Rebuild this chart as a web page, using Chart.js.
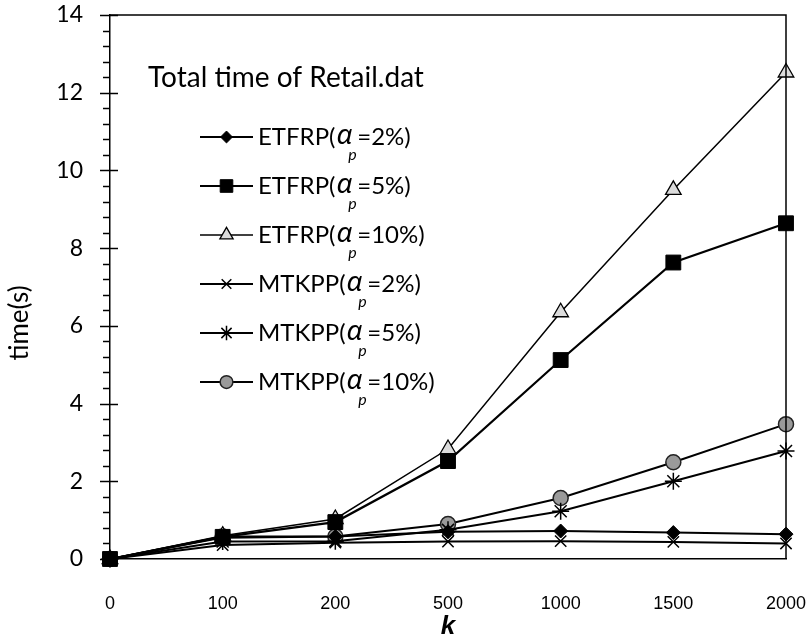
<!DOCTYPE html>
<html><head><meta charset="utf-8">
<script src="https://cdn.jsdelivr.net/npm/chart.js@4"></script>
<style>html,body{margin:0;padding:0;background:#fff}</style>
</head><body>
<canvas id="c" width="810" height="642" style="width:810px;height:642px;display:block"></canvas>
<script>
const categories = ['0','100','200','500','1000','1500','2000'];
const etfrp2  = [0, 0.55, 0.58, 0.70, 0.72, 0.68, 0.64];
const etfrp5  = [0, 0.57, 0.95, 2.52, 5.12, 7.63, 8.64];
const etfrp10 = [0, 0.60, 1.03, 2.83, 6.35, 9.50, 12.52];
const mtkpp2  = [0, 0.36, 0.42, 0.45, 0.46, 0.44, 0.40];
const mtkpp5  = [0, 0.45, 0.46, 0.75, 1.23, 2.00, 2.78];
const mtkpp10 = [0, 0.58, 0.58, 0.90, 1.57, 2.49, 3.47];
const seriesMethod = ['ETFRP','ETFRP','ETFRP','MTKPP','MTKPP','MTKPP'];
const seriesAlpha  = ['2%','5%','10%','2%','5%','10%'];
const legendTitle = 'Total time of Retail.dat';
const yTitle = 'time(s)';
const xTitle = 'k';

const styles = [
  {pointStyle:'rectRot', pointRadius:7, backgroundColor:'#000', borderColor:'#000', pointBorderWidth:1, borderWidth:2},
  {pointStyle:'rect', pointRadius:10.5, backgroundColor:'#000', borderColor:'#000', pointBorderWidth:1, borderWidth:2.2},
  {pointStyle:'triangle', pointRadius:9, backgroundColor:'#dcdcdc', borderColor:'#000', pointBorderWidth:1.3, borderWidth:1.5},
  {pointStyle:'crossRot', pointRadius:8, backgroundColor:'#000', borderColor:'#000', pointBorderWidth:1.5, borderWidth:2},
  {pointStyle:'star', pointRadius:8.5, backgroundColor:'#000', borderColor:'#000', pointBorderWidth:1.5, borderWidth:2},
  {pointStyle:'circle', pointRadius:7.5, backgroundColor:'#9a9a9a', borderColor:'#222', pointBorderWidth:1.5, borderWidth:2}
];
const allData = [etfrp2, etfrp5, etfrp10, mtkpp2, mtkpp5, mtkpp10];
const datasets = allData.map((d,i)=>({
  label: seriesMethod[i]+'(αp='+seriesAlpha[i]+')',
  data: d,
  borderColor: '#000',
  backgroundColor: styles[i].backgroundColor,
  borderWidth: styles[i].borderWidth,
  pointStyle: styles[i].pointStyle,
  pointRadius: styles[i].pointRadius,
  pointHoverRadius: styles[i].pointRadius,
  pointBackgroundColor: styles[i].backgroundColor,
  pointBorderColor: styles[i].borderColor,
  pointBorderWidth: styles[i].pointBorderWidth,
  tension: 0,
  clip: false
}));

const framePlugin = {
  id:'frame',
  afterDraw(chart){
    const ctx = chart.ctx, a = chart.chartArea, ys = chart.scales.y;
    ctx.save();
    ctx.strokeStyle = '#000';
    ctx.lineWidth = 1.5;
    ctx.beginPath();
    ctx.moveTo(a.left, a.top); ctx.lineTo(a.right, a.top); ctx.lineTo(a.right, a.bottom);
    ctx.stroke();
    for (let k = 0; k <= 35; k++) {
      const v = k*0.4;
      const py = Math.round(ys.getPixelForValue(v)) + 0.5;
      ctx.beginPath();
      if (k % 5 === 0) { ctx.moveTo(a.left-10, py); ctx.lineTo(a.left+8, py); }
      else { ctx.moveTo(a.left-7, py); ctx.lineTo(a.left, py); }
      ctx.stroke();
    }
    // y axis title
    ctx.fillStyle = '#000';
    ctx.font = '26px Lato';
    ctx.textAlign = 'center';
    ctx.textBaseline = 'middle';
    ctx.translate(20, 323);
    ctx.rotate(-Math.PI/2);
    ctx.fillText(yTitle, 0, 0);
    ctx.restore();
  }
};

const legendPlugin = {
  id:'customLegend',
  afterDraw(chart){
    const ctx = chart.ctx, a = chart.chartArea;
    ctx.save();
    ctx.fillStyle = '#000';
    ctx.textBaseline = 'middle';
    ctx.textAlign = 'left';
    ctx.font = '28px Lato';
    ctx.fillText(legendTitle, a.left + 38, 78);
    chart.data.datasets.forEach((ds, i) => {
      const y = 137 + 49*i;
      const x0 = a.left + 90, x1 = a.left + 143;
      ctx.strokeStyle = '#000';
      ctx.lineWidth = ds.borderWidth;
      ctx.beginPath(); ctx.moveTo(x0, y); ctx.lineTo(x1, y); ctx.stroke();
      ctx.fillStyle = ds.pointBackgroundColor;
      ctx.strokeStyle = ds.pointBorderColor;
      ctx.lineWidth = ds.pointBorderWidth;
      Chart.helpers.drawPoint(ctx, {pointStyle: ds.pointStyle, radius: ds.pointRadius*0.85, rotation:0, borderWidth: ds.pointBorderWidth}, (x0+x1)/2, y);
      ctx.fillStyle = '#000';
      let x = x1 + 5;
      ctx.font = '24px Lato';
      const t1 = seriesMethod[i] + '(';
      ctx.fillText(t1, x, y); x += ctx.measureText(t1).width + 1;
      ctx.font = 'italic 28px "Noto Sans"';
      ctx.fillText('α', x, y - 1); x += ctx.measureText('α').width;
      ctx.font = 'italic 16px Lato';
      ctx.fillText('p', x - 4, y + 18); x += 5;
      ctx.font = '24px Lato';
      ctx.fillText('=' + seriesAlpha[i] + ')', x, y);
    });
    ctx.restore();
  }
};

new Chart(document.getElementById('c'), {
  type:'line',
  data:{labels: categories, datasets},
  options:{
    responsive:false,
    animation:false,
    events:[],
    layout:{padding:{top:15,right:24,left:0,bottom:0}},
    plugins:{legend:{display:false}, tooltip:{enabled:false}},
    scales:{
      x:{
        offset:false,
        grid:{display:false, drawTicks:false},
        border:{display:true, color:'#000', width:1.5},
        ticks:{color:'#000', font:{family:'"Liberation Sans"', size:18}, padding:34, maxRotation:0, autoSkip:false},
        title:{display:true, text:xTitle, color:'#000', font:{family:'"Liberation Sans"', size:26, weight:'bold', style:'italic'}, padding:{top:-4,bottom:0}},
        afterFit(s){ s.height = 83; s.paddingLeft = 0; s.paddingRight = 0; }
      },
      y:{
        min:0, max:14,
        grid:{display:false, drawTicks:false},
        border:{display:true, color:'#000', width:1.5},
        ticks:{stepSize:2, color:'#000', font:{family:'Lato', size:23}, padding:27},
        title:{display:false},
        afterFit(s){ s.width = 110; s.paddingTop = 0; s.paddingBottom = 0; }
      }
    }
  },
  plugins:[framePlugin, legendPlugin]
});
</script>
</body></html>
